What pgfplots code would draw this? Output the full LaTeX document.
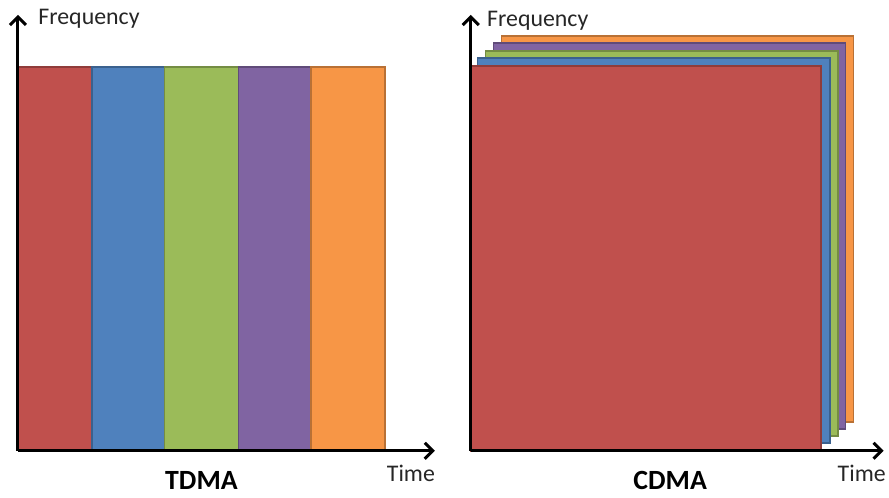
\documentclass[border=0pt]{standalone}
\usepackage{pgfplots}
\pgfplotsset{compat=1.18}
\usetikzlibrary{arrows.meta}
\usepackage{fontspec}
\setmainfont{Carlito}
\definecolor{cred}{HTML}{C0504D}
\definecolor{cblue}{HTML}{4F81BD}
\definecolor{cgreen}{HTML}{9BBB59}
\definecolor{cpurple}{HTML}{8064A2}
\definecolor{corange}{HTML}{F79646}
\begin{document}
\begin{tikzpicture}[x=1bp,y=1bp]
\begin{axis}[
  scale only axis, width=889bp, height=499bp,
  xmin=0, xmax=889, ymin=0, ymax=499,
  hide axis, clip=false,
  every axis plot/.append style={line width=1.5bp},
]
\path (axis cs:0,0) rectangle (axis cs:889,499);
% TDMA bars
\addplot[fill=cred, draw=cred!75!black] coordinates {(18,48)(92,48)(92,432)(18,432)} -- cycle;
\addplot[fill=cblue, draw=cblue!75!black] coordinates {(92,48)(165,48)(165,432)(92,432)} -- cycle;
\addplot[fill=cgreen, draw=cgreen!75!black] coordinates {(165,48)(239,48)(239,432)(165,432)} -- cycle;
\addplot[fill=cpurple, draw=cpurple!75!black] coordinates {(239,48)(312,48)(312,432)(239,432)} -- cycle;
\addplot[fill=corange, draw=corange!75!black] coordinates {(312,48)(386,48)(386,432)(312,432)} -- cycle;
% CDMA layers (back to front)
\addplot[fill=corange, draw=corange!75!black] coordinates {(503,76)(856,76)(856,463)(503,463)} -- cycle;
\addplot[fill=cpurple, draw=cpurple!75!black] coordinates {(495,69)(848,69)(848,456)(495,456)} -- cycle;
\addplot[fill=cgreen, draw=cgreen!75!black] coordinates {(487,62)(840,62)(840,448)(487,448)} -- cycle;
\addplot[fill=cblue, draw=cblue!75!black] coordinates {(479,55)(832,55)(832,441)(479,441)} -- cycle;
\addplot[fill=cred, draw=cred!75!black] coordinates {(472,47)(823,47)(823,433)(472,433)} -- cycle;
% axes arrows
\addplot[black, line width=3bp, -{Straight Barb[length=8bp,width=16bp]}] coordinates {(18,47)(18,484)};
\addplot[black, line width=3bp, -{Straight Barb[length=8bp,width=16bp]}] coordinates {(18,47)(436,47)};
\addplot[black, line width=3bp, -{Straight Barb[length=8bp,width=16bp]}] coordinates {(472,47)(472,484)};
\addplot[black, line width=3bp, -{Straight Barb[length=8bp,width=16bp]}] coordinates {(472,47)(886,47)};
% labels
\node[anchor=west, font=\fontsize{24}{26}\selectfont, text=black!85] at (axis cs:35,480) {Frequency};
\node[anchor=west, font=\fontsize{24}{26}\selectfont, text=black!85] at (axis cs:485,478) {Frequency};
\node[font=\fontsize{24}{26}\selectfont, text=black!85] at (axis cs:412,24) {Time};
\node[font=\fontsize{24}{26}\selectfont, text=black!85] at (axis cs:864,24) {Time};
\node[font=\fontsize{28}{30}\selectfont\bfseries, inner sep=0pt, anchor=base] at (axis cs:202,8) {TDMA};
\node[font=\fontsize{28}{30}\selectfont\bfseries, inner sep=0pt, anchor=base] at (axis cs:672,8) {CDMA};
\end{axis}
\end{tikzpicture}
\end{document}
